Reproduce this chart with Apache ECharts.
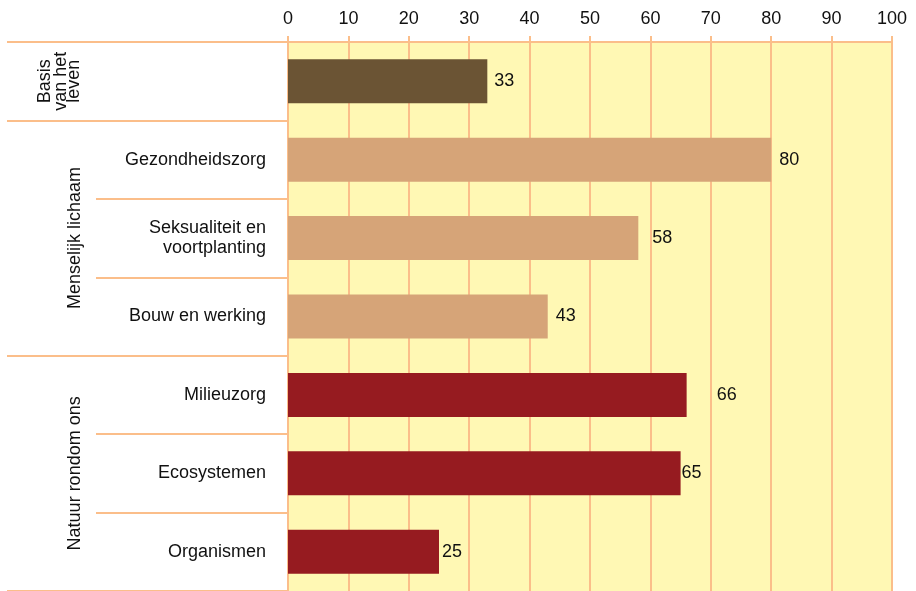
<!DOCTYPE html>
<html>
<head>
    <meta charset="utf-8">
    <title>Onderwerpen biologie</title>
    <script src="https://cdn.jsdelivr.net/npm/echarts@6.0.0/dist/echarts.min.js"></script>
    <style>
        html, body { margin: 0; padding: 0; background: #fff; }
        #main { width: 916px; height: 591px; }
    </style>
</head>
<body>
    <div id="main"></div>
    <script>
        // categorieën van boven naar onder
        const categories = ['Basis van het leven', 'Gezondheidszorg', 'Seksualiteit en\nvoortplanting',
            'Bouw en werking', 'Milieuzorg', 'Ecosystemen', 'Organismen'];
        const values = [33, 80, 58, 43, 66, 65, 25];
        const groupOfCategory = [0, 1, 1, 1, 2, 2, 2];
        // groepen (hoofdthema's) en hun grenzen in rijen
        const groupNames = ['Basis\nvan het\nleven', 'Menselijk lichaam', 'Natuur rondom ons'];
        const groupBounds = [0, 1, 4, 7];
        const groupColors = ['#6B5434', '#D6A478', '#961B20'];
        const xTicks = [0, 10, 20, 30, 40, 50, 60, 70, 80, 90, 100];
        // afstand van het getal tot het einde van de balk (zoals in het origineel)
        const labelGap = [7, 8, 14, 8, 30, 1, 3];

        const lineColor = '#FBBE8A';
        const chart = echarts.init(document.getElementById('main'));

        const groupCenters = groupNames.map((_, i) => (groupBounds[i] + groupBounds[i + 1]) / 2);

        chart.setOption({
            animation: false,
            textStyle: { fontFamily: 'Liberation Sans, Arial, sans-serif' },
            grid: {
                left: 288, right: 24, top: 42, bottom: 0,
                show: true, backgroundColor: '#FFF8B4', borderWidth: 0
            },
            xAxis: {
                type: 'value',
                position: 'top',
                min: xTicks[0], max: xTicks[xTicks.length - 1], interval: 10,
                axisLine: { show: true, lineStyle: { color: lineColor, width: 2 } },
                axisTick: { show: true, length: 6, lineStyle: { color: lineColor, width: 2 } },
                splitLine: { show: true, lineStyle: { color: lineColor, width: 2 } },
                axisLabel: { color: '#111', fontSize: 18, margin: 14 }
            },
            yAxis: [{
                type: 'category',
                inverse: true,
                data: categories,
                axisLine: { show: false },
                axisTick: { show: true, length: 192, interval: 0, lineStyle: { color: lineColor, width: 2 } },
                axisLabel: {
                    color: '#111', fontSize: 18, lineHeight: 20, margin: 22, align: 'right',
                    formatter: (v, i) => i === 0 ? '' : v
                }
            }, {
                type: 'value',
                inverse: true,
                position: 'left',
                min: 0, max: 7,
                axisLine: { show: false },
                splitLine: { show: false },
                axisTick: {
                    show: true, length: 281, customValues: groupBounds,
                    lineStyle: { color: lineColor, width: 2 }
                },
                axisLabel: {
                    show: true, customValues: groupCenters, rotate: 90, margin: 207,
                    color: '#111', fontSize: 18,
                    formatter: v => {
                        const g = groupCenters.indexOf(v);
                        if (g === 0) return '{a|Basis}\n{b|van het}\n{b|leven}';
                        return '{c|' + groupNames[g] + '}';
                    },
                    rich: {
                        a: { fontSize: 18, lineHeight: 19, color: '#111' },
                        b: { fontSize: 18, lineHeight: 13, color: '#111' },
                        c: { fontSize: 18, lineHeight: 12, color: '#111' }
                    }
                }
            }],
            series: [{
                type: 'bar',
                yAxisIndex: 0,
                barWidth: 44,
                data: values.map((v, i) => ({
                    value: v,
                    itemStyle: { color: groupColors[groupOfCategory[i]] },
                    label: { distance: labelGap[i] }
                })),
                label: {
                    show: true, position: 'right', color: '#111', fontSize: 18
                }
            }]
        });
    </script>
</body>
</html>
